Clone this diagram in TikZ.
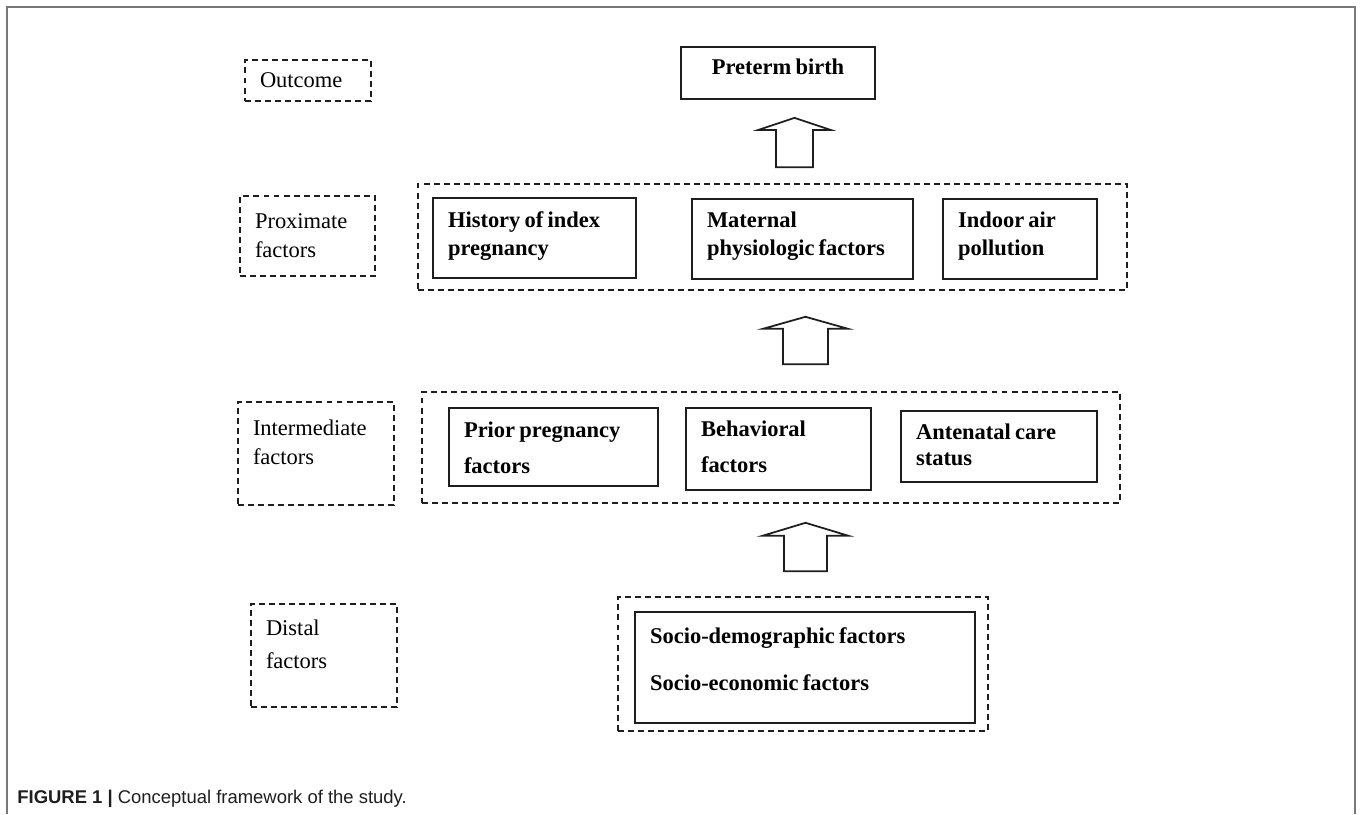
\documentclass[tikz,border=0pt]{standalone}
\usepackage{fontspec}
\setmainfont{Liberation Serif}[WordSpace=0.75]
\setsansfont{Liberation Sans}
\usepackage{tikz}
\usetikzlibrary{calc,positioning}
\definecolor{frameline}{RGB}{120,120,120}
\definecolor{ink}{RGB}{30,30,30}

\begin{document}
\begin{tikzpicture}[x=1cm,y=1cm,
  font=\fontsize{12.8}{17}\selectfont,
  frame/.style={draw=frameline,line width=1.1pt},
  tier/.style={draw=ink,line width=.9pt,dash pattern=on 3.4pt off 2.3pt,align=flush left,inner xsep=.3cm,inner ysep=0pt},
  group/.style={draw=ink,line width=.9pt,dash pattern=on 3.4pt off 2.3pt,inner sep=0pt},
  factor/.style={draw=ink,line width=1pt,font=\fontsize{12.8}{17}\selectfont\bfseries,align=flush left,inner xsep=.3cm,inner ysep=0pt},
  blockup/.style n args={3}{draw=ink,line width=1pt,fill=white,line join=miter,
    to path={($(\tikztostart)+(-#1,0)$) -- ($(\tikztotarget)+(-#1,-#3)$) -- ($(\tikztotarget)+(-#2,-#3)$) -- (\tikztotarget)
      -- ($(\tikztotarget)+(#2,-#3)$) -- ($(\tikztotarget)+(#1,-#3)$) -- ($(\tikztostart)+(#1,0)$) -- cycle}},
  caption/.style={font=\fontsize{10.5}{12}\sffamily,text=ink,anchor=base west,inner sep=0pt}]

\path[use as bounding box] (0,0) rectangle (27.26,-16.28);
\draw[frame] (.14,-16.28) -- (.14,-.14) -- (27.10,-.14) -- (27.10,-16.28);

% level labels
\node[tier,text width=1.92cm,text height=.54cm,text depth=.28cm] (outcome) at (6.16,-1.61) {Outcome};
\node[tier,text width=2.10cm,text height=.64cm,text depth=.96cm] (proxlabel) at (6.15,-4.72) {Proximate\\factors};
\node[tier,text width=2.52cm,text height=.66cm,text depth=1.40cm] (interlabel) at (6.32,-9.07) {Intermediate\\factors};
\node[tier,text width=2.32cm,text height=.62cm,text depth=1.44cm] (distlabel) at (6.48,-13.11) {Distal\\[2pt]factors};

% groups
\node[group,minimum width=14.18cm,minimum height=2.12cm] (gprox) at (15.45,-4.74) {};
\node[group,minimum width=13.96cm,minimum height=2.22cm] (ginter) at (15.42,-8.95) {};
\node[group,minimum width=7.40cm,minimum height=2.68cm] (gdist) at (16.06,-13.28) {};

% factors
\node[factor,align=flush center,text width=3.28cm,text height=.54cm,text depth=.50cm] (preterm) at (15.56,-1.46) {Preterm birth};
\node[factor,text width=3.46cm,text height=.58cm,text depth=1.02cm] (hist) at (10.69,-4.76) {History of index\\[-1pt]pregnancy};
\node[factor,text width=3.82cm,text height=.56cm,text depth=1.04cm] (matern) at (16.05,-4.78) {Maternal\\[-1pt]physiologic factors};
\node[factor,text width=2.48cm,text height=.56cm,text depth=1.04cm] (indoor) at (20.40,-4.78) {Indoor air\\[-1pt]pollution};
\node[factor,text width=3.58cm,text height=.58cm,text depth=.98cm] (prior) at (11.07,-8.94) {Prior pregnancy\\[3.5pt]factors};
\node[factor,text width=3.10cm,text height=.56cm,text depth=1.08cm] (behav) at (15.57,-8.98) {Behavioral\\[4pt]factors};
\node[factor,text width=3.32cm,text height=.56cm,text depth=.86cm] (antenatal) at (19.98,-8.93) {Antenatal care\\[-2pt]status};
\node[factor,text width=6.20cm,text height=.62cm,text depth=1.60cm] (socio) at (16.10,-13.35) {Socio-demographic factors\\[10pt]Socio-economic factors};

% block arrows
\coordinate (lane) at (15.89,0);
\coordinate (lane2) at (16.11,0);
\coordinate (up1) at ($(gprox.north -| lane)+(0,.32)$);
\coordinate (up1tip) at ($(preterm.south -| lane)+(0,-.36)$);
\coordinate (up2) at ($(ginter.north -| lane2)+(0,.54)$);
\coordinate (up2tip) at ($(gprox.south -| lane2)+(0,-.52)$);
\coordinate (up3) at ($(gdist.north -| lane2)+(0,.50)$);
\coordinate (up3tip) at ($(ginter.south -| lane2)+(0,-.38)$);
\draw[blockup={.37}{.72}{.24}] (up1) to (up1tip);
\draw[blockup={.45}{.85}{.24}] (up2) to (up2tip);
\draw[blockup={.43}{.86}{.26}] (up3) to (up3tip);

\node[caption] (figcap) at (.34,-16.06) {\textbf{FIGURE 1 |} Conceptual framework of the study.};

\end{tikzpicture}
\end{document}
